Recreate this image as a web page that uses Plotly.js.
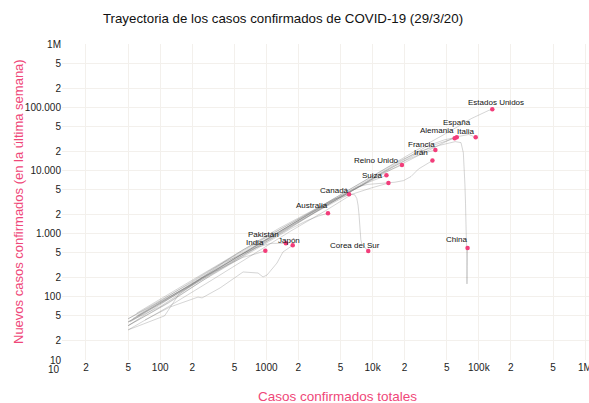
<!DOCTYPE html>
<html>
<head>
<meta charset="utf-8">
<script src="https://cdn.plot.ly/plotly-3.0.1.min.js"></script>
<style>html,body{margin:0;padding:0;background:#fff;}#chart{width:589px;height:403px;}</style>
</head>
<body>
<div id="chart"></div>
<script>
// ---- data (total confirmed cases vs. new cases in the last week) ----
const countries = ['Estados Unidos','España','Italia','Alemania','Francia','Irán','Reino Unido','Suiza','Países Bajos','Canadá','Australia','Corea del Sur','China','Pakistán','India','Japón'];
const labels    = ['Estados Unidos','España','Italia','Alemania','Francia','Irán','Reino Unido','Suiza','','Canadá','Australia','Corea del Sur','China','Pakistán','India','Japón'];

const casesUS  = [52, 100, 200, 480, 1000, 2100, 4600, 9400, 19000, 35000, 54000, 85000, 124000, 134000];
const weeklyUS = [40, 78, 155, 380, 800, 1700, 3800, 7700, 15500, 28000, 42000, 66000, 89000, 92700];
const casesES  = [55, 160, 500, 1600, 4200, 9900, 20000, 33000, 47600, 62000];
const weeklyES = [45, 130, 420, 1300, 3400, 7800, 15500, 24500, 30500, 33500];
const casesIT  = [62, 150, 400, 1100, 2500, 4600, 9200, 15100, 24700, 41000, 59000, 80500, 93500];
const weeklyIT = [50, 120, 320, 880, 2000, 3500, 6700, 10400, 15900, 24500, 33500, 37000, 33400];
const casesDE  = [50, 130, 500, 1200, 3000, 7200, 15000, 24800, 40000, 59300];
const weeklyDE = [40, 100, 400, 950, 2300, 5300, 11000, 17500, 26000, 32200];
const casesFR  = [50, 130, 400, 1100, 2900, 6600, 12600, 19800, 29000, 39000];
const weeklyFR = [35, 100, 300, 850, 2200, 5000, 9400, 14000, 18500, 21000];
const casesIR  = [60, 250, 600, 1500, 3500, 7200, 9000, 11400, 13900, 16200, 19600, 23000, 27000, 32300, 36600];
const weeklyIR = [55, 230, 550, 1300, 2800, 5500, 6000, 6200, 6300, 6500, 6900, 8000, 10500, 12800, 14300];
const casesUK  = [50, 120, 300, 800, 2000, 4000, 8000, 12000, 18900];
const weeklyUK = [35, 80, 220, 600, 1500, 3000, 6000, 8800, 12200];
const casesCH  = [50, 150, 400, 1100, 2600, 5000, 8800, 13500];
const weeklyCH = [40, 120, 330, 900, 2100, 3900, 6300, 8360];
const casesNL  = [50, 120, 300, 700, 1700, 3600, 6400, 9800, 11800, 14100];
const weeklyNL = [30, 70, 180, 440, 1100, 2300, 4200, 5300, 5800, 6300];
const casesCA  = [50, 100, 200, 400, 800, 1500, 2800, 4300, 6000];
const weeklyCA = [40, 70, 150, 310, 600, 1100, 2100, 3100, 4190];
const casesAU  = [50, 110, 250, 500, 1000, 1700, 2400, 3100, 3800];
const weeklyAU = [35, 75, 180, 360, 700, 1200, 1600, 1900, 2100];
const casesKR  = [50, 200, 600, 1300, 2300, 4300, 6300, 6800, 7100, 7300, 7450, 7550, 7650, 7750, 7900, 8300, 8700, 9100];
const weeklyKR = [45, 170, 550, 1200, 2000, 3500, 4200, 4100, 3600, 2800, 2000, 1400, 1000, 800, 700, 620, 570, 531];
const casesCN  = [60, 280, 800, 2000, 4500, 9700, 17000, 28000, 43000, 60000, 68000, 71500, 73000, 74000, 75000, 76000, 76500, 77000, 77200, 77400, 77800, 78400];
const weeklyCN = [50, 250, 700, 1700, 3800, 8000, 13500, 20000, 25000, 28500, 27500, 19000, 11000, 6000, 3000, 1500, 800, 400, 250, 160, 300, 592];
const casesPK  = [50, 190, 400, 800, 1100, 1526];
const weeklyPK = [45, 150, 350, 600, 700, 703];
const casesIN  = [50, 80, 110, 150, 250, 400, 600, 800, 977];
const weeklyIN = [30, 40, 50, 110, 200, 300, 420, 480, 536];
const casesJP  = [72, 124, 227, 248, 366, 603, 834, 929, 1014, 1259, 1432, 1770];
const weeklyJP = [43, 69, 99, 96, 138, 247, 238, 206, 221, 343, 512, 653];

const xTickVals = [10, 20, 50, 100, 200, 500, 1000, 2000, 5000, 10000, 20000, 50000, 100000, 200000, 500000, 1000000];
const xTickText = ['10','2','5','100','2','5','1000','2','5','10k','2','5','100k','2','5','1M'];
const yTickVals = [10, 20, 50, 100, 200, 500, 1000, 2000, 5000, 10000, 20000, 50000, 100000, 200000, 500000, 1000000];
const yTickText = ['10','2','5','100','2','5','1.000','2','5','10.000','2','5','100.000','2','5','1M'];

// ---- build ----
const seriesX = [casesUS, casesES, casesIT, casesDE, casesFR, casesIR, casesUK, casesCH, casesNL, casesCA, casesAU, casesKR, casesCN, casesPK, casesIN, casesJP];
const seriesY = [weeklyUS, weeklyES, weeklyIT, weeklyDE, weeklyFR, weeklyIR, weeklyUK, weeklyCH, weeklyNL, weeklyCA, weeklyAU, weeklyKR, weeklyCN, weeklyPK, weeklyIN, weeklyJP];

// label offsets in pixels (style, not data)
const labelOffsets = {
  'Estados Unidos':[4,-7], 'España':[0,-15], 'Italia':[-10,-6], 'Alemania':[-18,-8],
  'Francia':[-14,-6], 'Irán':[-11,-8], 'Reino Unido':[-25,-4], 'Suiza':[-14,0],
  'Canadá':[-15,-4], 'Australia':[-16,-8], 'Corea del Sur':[-13,-5], 'China':[-11,-8],
  'Pakistán':[-22,-9], 'India':[-10,-8], 'Japón':[-4,-5]
};

const FONT = 'Liberation Sans, Arial, sans-serif';
const PINK = '#ef4779';
const traces = [];
seriesX.forEach((xs, i) => {
  traces.push({
    type: 'scatter', mode: 'lines', x: xs, y: seriesY[i], name: countries[i],
    line: {color: 'rgba(105,105,105,0.28)', width: 1},
    hoverinfo: 'name', showlegend: false
  });
});
const endX = seriesX.map(a => a[a.length - 1]);
const endY = seriesY.map(a => a[a.length - 1]);
traces.push({
  type: 'scatter', mode: 'markers', x: endX, y: endY, text: countries,
  marker: {color: '#f23d7a', size: 4.5}, hoverinfo: 'text', showlegend: false
});

const annotations = [];
countries.forEach((c, i) => {
  if (!labels[i]) return;
  const off = labelOffsets[c] || [0, -8];
  annotations.push({
    x: Math.log10(endX[i]), y: Math.log10(endY[i]), xref: 'x', yref: 'y',
    text: labels[i], showarrow: true, arrowcolor: 'rgba(0,0,0,0)', arrowwidth: 0.1,
    ax: off[0], ay: off[1], xanchor: 'center', yanchor: 'middle',
    font: {size: 8, color: '#111', family: FONT}
  });
});
// leftmost x tick label (sits left of the panel)
annotations.push({
  xref: 'paper', yref: 'paper', x: (54 - 62) / 527, y: -(369 - 360) / 316,
  text: xTickText[0], showarrow: false, xanchor: 'center', yanchor: 'middle',
  font: {size: 10, color: '#222', family: FONT}
});
// axis titles
annotations.push({
  xref: 'paper', yref: 'paper', x: (337 - 62) / 527, y: -(396 - 360) / 316,
  text: 'Casos confirmados totales', showarrow: false, xanchor: 'center', yanchor: 'middle',
  font: {size: 13.5, color: PINK, family: FONT}
});
annotations.push({
  xref: 'paper', yref: 'paper', x: (18 - 62) / 527, y: 0.5, textangle: -90,
  text: 'Nuevos casos confirmados (en la última semana)', showarrow: false,
  xanchor: 'center', yanchor: 'middle',
  font: {size: 13, color: PINK, family: FONT}
});

const gridColor = '#f3f0ec';
const layout = {
  width: 589, height: 403,
  margin: {l: 62, r: 0, t: 44, b: 43},
  paper_bgcolor: '#ffffff', plot_bgcolor: '#ffffff',
  font: {family: FONT, color: '#222', size: 10},
  title: {
    text: 'Trayectoria de los casos confirmados de COVID-19 (29/3/20)',
    x: 283 / 589, xref: 'container', xanchor: 'center',
    y: 1 - 18 / 403, yref: 'container', yanchor: 'middle',
    font: {size: 13.3, color: '#111', family: FONT}
  },
  xaxis: {
    type: 'log', range: [1 + 8 / 106.2, 1 + 535 / 106.2],
    tickmode: 'array', tickvals: xTickVals, ticktext: xTickText,
    showgrid: true, gridcolor: gridColor, gridwidth: 1,
    zeroline: false, showline: false, ticks: '',
    ticklabeloverflow: 'allow',
    tickfont: {size: 10, color: '#222'}
  },
  yaxis: {
    type: 'log', range: [1, 6],
    tickmode: 'array', tickvals: yTickVals, ticktext: yTickText,
    showgrid: true, gridcolor: gridColor, gridwidth: 1,
    zeroline: false, showline: false, ticks: '',
    ticklabeloverflow: 'allow',
    tickfont: {size: 10, color: '#222'}
  },
  annotations: annotations,
  showlegend: false,
  hovermode: 'closest'
};

Plotly.newPlot('chart', traces, layout, {displayModeBar: false, staticPlot: true});
</script>
</body>
</html>
